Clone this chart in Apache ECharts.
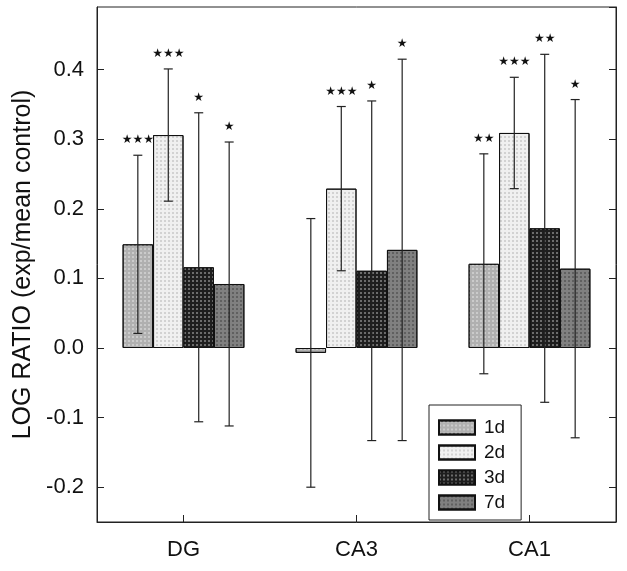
<!DOCTYPE html>
<html>
<head>
<meta charset="utf-8">
<script src="https://cdn.jsdelivr.net/npm/echarts@6/dist/echarts.min.js"></script>
<style>
html,body{margin:0;padding:0;background:#fff;}
#chart{width:627px;height:571px;}
</style>
</head>
<body>
<div id="chart"></div>
<script>
const categories = ['DG', 'CA3', 'CA1'];
const seriesNames = ['1d', '2d', '3d', '7d'];
const val1d = [0.149, -0.007, 0.121];
const val2d = [0.306, 0.229, 0.309];
const val3d = [0.116, 0.111, 0.172];
const val7d = [0.092, 0.141, 0.114];
const err1d = [0.128, 0.193, 0.158];
const err2d = [0.095, 0.118, 0.080];
const err3d = [0.222, 0.244, 0.250];
const err7d = [0.204, 0.274, 0.243];
const sig1d = ['★★★', '', '★★'];
const sig2d = ['★★★', '★★★', '★★★'];
const sig3d = ['★', '★', '★★'];
const sig7d = ['★', '★', '★'];

const values = [val1d, val2d, val3d, val7d];
const errors = [err1d, err2d, err3d, err7d];
const sigs = [sig1d, sig2d, sig3d, sig7d];

const fills = ['#b0b0b0', '#f0f0f0', '#1e1e1e', '#808080'];
const decalColors = ['rgba(255,255,255,0.35)', 'rgba(0,0,0,0.12)', 'rgba(255,255,255,0.35)', 'rgba(0,0,0,0.25)'];
const BAR_FRAC = 0.176;
const FONT = '"Liberation Sans", Arial, Helvetica, sans-serif';

const chart = echarts.init(document.getElementById('chart'));

const barSeries = seriesNames.map((n, k) => ({
  name: n,
  type: 'bar',
  data: values[k],
  barWidth: (BAR_FRAC * 100) + '%',
  barGap: '0%',
  itemStyle: {
    color: fills[k],
    borderColor: '#111',
    borderWidth: 1,
    decal: {
      symbol: 'rect',
      symbolSize: 1,
      color: decalColors[k],
      dashArrayX: [2, 2],
      dashArrayY: [2, 2],
      rotation: 0
    }
  },
  z: 2,
  silent: true
}));

const errSeries = seriesNames.map((n, k) => ({
  type: 'custom',
  z: 5,
  silent: true,
  data: categories.map((c, i) => [i, values[k][i], errors[k][i]]),
  renderItem: function (params, api) {
    const ci = api.value(0), v = api.value(1), e = api.value(2);
    const band = api.size([1, 0])[0];
    const bw = band * BAR_FRAC;
    const cx = api.coord([ci, 0])[0] + (k - 1.5) * bw;
    const yt = api.coord([ci, v + e])[1];
    const yb = api.coord([ci, v - e])[1];
    const cap = 4.5;
    const st = { stroke: '#222', lineWidth: 1.2 };
    const children = [
      { type: 'line', shape: { x1: cx, y1: yt, x2: cx, y2: yb }, style: st },
      { type: 'line', shape: { x1: cx - cap, y1: yt, x2: cx + cap, y2: yt }, style: st },
      { type: 'line', shape: { x1: cx - cap, y1: yb, x2: cx + cap, y2: yb }, style: st }
    ];
    const s = sigs[k][params.dataIndex];
    if (s) {
      children.push({
        type: 'text',
        style: {
          text: s, x: cx, y: yt - 15,
          align: 'center', verticalAlign: 'middle',
          fill: '#111', font: '12px "DejaVu Sans", sans-serif'
        }
      });
    }
    return { type: 'group', children: children };
  }
}));

const fmt = v => {
  const r = Math.round(v * 10) / 10;
  return (r === 0 ? 0 : r).toFixed(1);
};

chart.setOption({
  animation: false,
  backgroundColor: '#fff',
  grid: { left: 97, right: 11, top: 7, bottom: 49, show: true, borderColor: '#222', borderWidth: 1 },
  legend: {
    data: seriesNames,
    orient: 'vertical',
    left: 429,
    top: 405,
    padding: [13, 16, 8, 9],
    itemWidth: 36,
    itemHeight: 14,
    itemGap: 6,
    borderColor: '#222',
    borderWidth: 1,
    backgroundColor: '#fff',
    icon: 'rect',
    textStyle: { fontFamily: FONT, fontSize: 19, color: '#111', padding: [0, 0, 0, 4] },
    selectedMode: false
  },
  xAxis: {
    type: 'category',
    data: categories,
    boundaryGap: true,
    axisLine: { show: true, onZero: false, lineStyle: { color: '#222', width: 1 } },
    axisTick: { show: true, inside: true, length: 7, alignWithLabel: true, lineStyle: { color: '#222' } },
    axisLabel: { fontFamily: FONT, fontSize: 22, color: '#111', margin: 17 },
    splitLine: { show: false }
  },
  yAxis: [
    {
      type: 'value',
      min: -0.25,
      max: 0.49,
      splitNumber: 7,
      minInterval: 0.1,
      maxInterval: 0.1,
      name: 'LOG RATIO (exp/mean control)',
      nameLocation: 'middle',
      nameGap: 58,
      nameRotate: 90,
      nameTextStyle: { fontFamily: FONT, fontSize: 25, color: '#111' },
      axisLine: { show: true, lineStyle: { color: '#222', width: 1 } },
      axisTick: { show: true, inside: true, length: 7, lineStyle: { color: '#222' } },
      axisLabel: { fontFamily: FONT, fontSize: 22, color: '#111', margin: 13, formatter: fmt, showMinLabel: false, showMaxLabel: false },
      splitLine: { show: false }
    },
    {
      type: 'value',
      position: 'right',
      min: -0.25,
      max: 0.49,
      splitNumber: 7,
      minInterval: 0.1,
      maxInterval: 0.1,
      axisLine: { show: true, lineStyle: { color: '#222', width: 1 } },
      axisTick: { show: true, inside: true, length: 7, lineStyle: { color: '#222' } },
      axisLabel: { show: false },
      splitLine: { show: false }
    }
  ],
  series: barSeries.concat(errSeries)
});
</script>
</body>
</html>
